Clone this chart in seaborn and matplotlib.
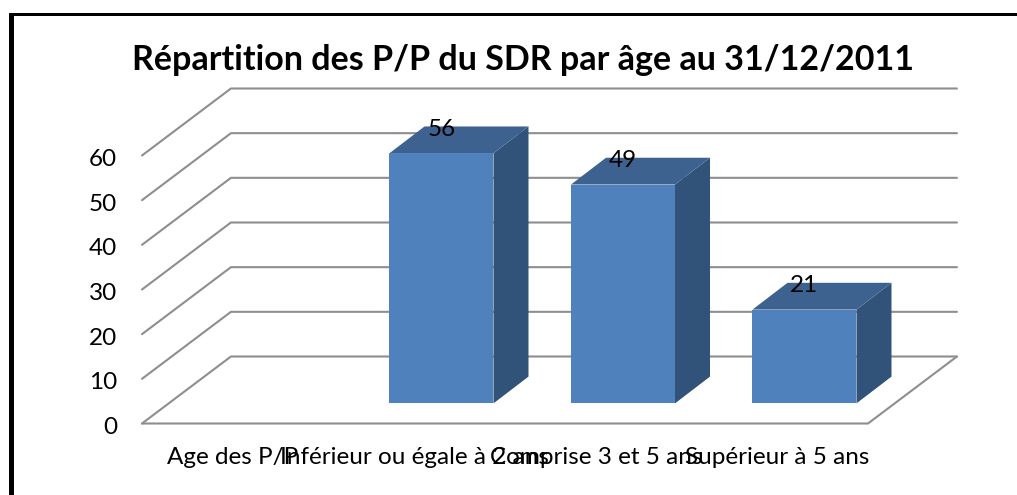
import numpy as np
import pandas as pd
import matplotlib
matplotlib.use("Agg")
import matplotlib.pyplot as plt
import seaborn as sns
from matplotlib.patches import Polygon, Rectangle
from matplotlib.transforms import Affine2D

categories = ["Age des P/P", "Inférieur ou égale à 2 ans", "Comprise 3 et 5 ans", "Supérieur à 5 ans"]
values = [np.nan, 56, 49, 21]
y_ticks = [0, 10, 20, 30, 40, 50, 60]

# oblique depth, in data units
floor_dx, floor_dy = 0.49, 15
bar_shift_x, bar_shift_y = 0.15, 4.5
bar_dx, bar_dy = 0.193, 6

W, H = 1017, 495
sns.set_theme(style="white")
plt.rcParams["font.family"] = ["Lato", "DejaVu Sans"]

fig = plt.figure(figsize=(W / 100, H / 100), dpi=100)
ax = fig.add_axes([142 / W, 1 - 423.5 / H, 726 / W, 268 / H])

df = pd.DataFrame({"cat": categories, "val": values})
sns.barplot(data=df, x="cat", y="val", order=categories, color="#4f81bd", saturation=1,
            width=0.573, linewidth=0, ax=ax, zorder=5)
ax.set_xlim(-0.5, 3.5)
ax.set_ylim(0, 60)
sns.despine(ax=ax, left=True, bottom=True)
ax.set_xlabel("")
ax.set_ylabel("")
ax.set_yticks(y_ticks)
ax.tick_params(axis="y", length=0, pad=18, labelsize=17.5, labelcolor="black")
ax.tick_params(axis="x", length=0, pad=17, labelsize=17.5, labelcolor="black")
for lab in ax.get_yticklabels():
    lab.set_transform(lab.get_transform() + Affine2D().translate(0, -2))

# walls and floor
grid_col = "#8e8e8e"
for v in y_ticks:
    ax.plot([-0.5, -0.5 + floor_dx, 3.5 + floor_dx], [v, v + floor_dy, v + floor_dy],
            color=grid_col, lw=1.5, clip_on=False, zorder=1)
ax.plot([-0.5, 3.5, 3.5 + floor_dx], [0, 0, floor_dy], color=grid_col, lw=1.5, clip_on=False, zorder=1)

# bars are pushed back onto the floor, then get a side and a top
shift = Affine2D().translate(bar_shift_x, bar_shift_y) + ax.transData
for bar, val in zip(ax.patches, [v for v in values if not np.isnan(v)]):
    bar.set_transform(shift)
    bar.set_clip_on(False)
    x0, x1 = bar.get_x(), bar.get_x() + bar.get_width()
    side = [(x1, 0), (x1 + bar_dx, bar_dy), (x1 + bar_dx, val + bar_dy), (x1, val)]
    top = [(x0, val), (x0 + bar_dx, val + bar_dy), (x1 + bar_dx, val + bar_dy), (x1, val)]
    ax.add_patch(Polygon(side, color="#325379", lw=0, transform=shift, clip_on=False, zorder=4))
    ax.add_patch(Polygon(top, color="#3e6290", lw=0, transform=shift, clip_on=False, zorder=4))
    ax.text((x0 + x1) / 2, val + bar_dy - 0.2, str(val), ha="center", va="center_baseline", fontsize=17.5,
            color="black", transform=shift, zorder=6)

fig.text(522.5 / W, 1 - 59.5 / H, "Répartition des P/P du SDR par âge au 31/12/2011", ha="center", va="center",
         fontsize=24.5, fontweight="bold", color="black")

# black frame of the pasted picture
fig.add_artist(Rectangle((9 / W, 0), 5 / W, 1 - 13 / H, color="black", lw=0, transform=fig.transFigure))
fig.add_artist(Rectangle((9 / W, 1 - 16 / H), 1 - 9 / W, 3 / H, color="black", lw=0, transform=fig.transFigure))

fig.savefig("out.png", dpi=100)
